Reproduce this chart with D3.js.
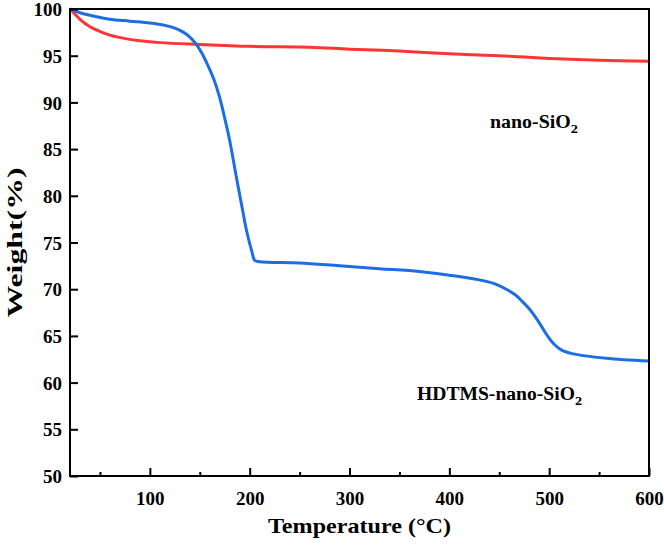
<!DOCTYPE html>
<html>
<head>
<meta charset="utf-8">
<script src="https://cdn.jsdelivr.net/npm/d3@7"></script>
<style>
  body { margin: 0; background: #fff; }
  text { font-family: "Liberation Serif", "Times New Roman", serif; font-weight: bold; fill: #000; }
</style>
</head>
<body>
<script>
// temperature (°C) and weight (%)
var nanoTemp = [20, 25, 30, 40, 50, 60, 77, 90, 110, 150, 200, 260, 300, 350, 400, 450, 500, 550, 600];
var nanoWeight = [100, 99.45, 98.9, 98.1, 97.6, 97.2, 96.8, 96.6, 96.4, 96.2, 96.0, 95.9, 95.7, 95.5, 95.2, 95.0, 94.7, 94.5, 94.4];

var hdtmsTemp = [20, 30, 43, 60, 80, 100, 115, 125, 133, 140, 146, 152, 158, 164, 170, 175, 180, 187, 193, 197, 202, 205, 210, 250, 290, 330, 370, 400, 430, 445, 457, 466, 473, 480, 487, 493, 499, 505, 512, 523, 557, 600];
var hdtmsWeight = [100, 99.6, 99.25, 98.9, 98.7, 98.5, 98.25, 97.95, 97.55, 97.0, 96.3, 95.3, 94.0, 92.5, 90.5, 88.3, 85.9, 81.8, 78.4, 76.2, 74.1, 73.1, 72.95, 72.8, 72.5, 72.2, 71.9, 71.5, 71.0, 70.6, 70.0, 69.4, 68.7, 67.9, 66.9, 65.9, 64.9, 64.1, 63.5, 63.1, 62.6, 62.3];

var xTicks = [100, 200, 300, 400, 500, 600];
var xMinorTicks = [50, 150, 250, 350, 450, 550];
var yTicks = [50, 55, 60, 65, 70, 75, 80, 85, 90, 95, 100];

var width = 664, height = 545;
var margin = {left: 70, right: 15, top: 9, bottom: 69};

var svg = d3.select('body').append('svg')
  .attr('width', width)
  .attr('height', height);

var x = d3.scaleLinear().domain([20, 600]).range([margin.left, width - margin.right]);
var y = d3.scaleLinear().domain([50, 100]).range([height - margin.bottom, margin.top]);

var line = d3.line()
  .x(function(d) { return x(d[0]); })
  .y(function(d) { return y(d[1]); })
  .curve(d3.curveCatmullRom.alpha(0.5));

var plot = svg.append('g');
plot.append('defs').append('clipPath').attr('id', 'clip')
  .append('rect')
  .attr('x', x(20)).attr('y', y(100) - 2)
  .attr('width', x(600) - x(20)).attr('height', y(50) - y(100) + 2);

var curves = plot.append('g').attr('clip-path', 'url(#clip)');
curves.append('path')
  .datum(d3.zip(nanoTemp, nanoWeight))
  .attr('d', line)
  .attr('fill', 'none')
  .attr('stroke', '#ff3535')
  .attr('stroke-width', 3);

curves.append('path')
  .datum(d3.zip(hdtmsTemp, hdtmsWeight))
  .attr('d', line)
  .attr('fill', 'none')
  .attr('stroke', '#1c6ee3')
  .attr('stroke-width', 3);

// frame
svg.append('rect')
  .attr('x', x(20)).attr('y', y(100))
  .attr('width', x(600) - x(20)).attr('height', y(50) - y(100))
  .attr('fill', 'none').attr('stroke', '#000').attr('stroke-width', 2);

// axes, ticks pointing inward
var xAxis = svg.append('g')
  .attr('transform', 'translate(0,' + y(50) + ')')
  .call(d3.axisBottom(x).tickValues(xTicks).tickSizeInner(-8).tickSizeOuter(0).tickPadding(16));
var xMinor = svg.append('g')
  .attr('transform', 'translate(0,' + y(50) + ')')
  .call(d3.axisBottom(x).tickValues(xMinorTicks).tickSizeInner(-4).tickSizeOuter(0).tickFormat(''));

var yAxis = svg.append('g')
  .attr('transform', 'translate(' + x(20) + ',0)')
  .call(d3.axisLeft(y).tickValues(yTicks).tickSizeInner(-8).tickSizeOuter(0).tickPadding(8));

[xAxis, xMinor, yAxis].forEach(function(g) {
  g.select('.domain').remove();
  g.selectAll('.tick line').attr('stroke', '#000').attr('stroke-width', 2);
  g.selectAll('.tick text').style('font-size', '19px').style('font-family', '"Liberation Serif", serif').style('font-weight', 'bold').attr('fill', '#000');
});
yAxis.selectAll('.tick text').attr('dy', '0.35em');

// axis titles (the original lettering is a little wide)
svg.append('text')
  .attr('x', (x(20) + x(600)) / 2)
  .attr('y', 533)
  .attr('text-anchor', 'middle')
  .attr('textLength', 183)
  .attr('lengthAdjust', 'spacingAndGlyphs')
  .style('font-size', '21px')
  .text('Temperature (°C)');

svg.append('text')
  .attr('transform', 'translate(22,' + ((y(50) + y(100)) / 2) + ') rotate(-90)')
  .attr('text-anchor', 'middle')
  .attr('textLength', 150)
  .attr('lengthAdjust', 'spacingAndGlyphs')
  .style('font-size', '22px')
  .text('Weight(%)');

// series labels
var lab1 = svg.append('text')
  .attr('x', 490).attr('y', 128)
  .attr('textLength', 88)
  .attr('lengthAdjust', 'spacingAndGlyphs')
  .style('font-size', '18px');
lab1.append('tspan').text('nano-SiO');
lab1.append('tspan').attr('dy', 5).style('font-size', '13px').text('2');

var lab2 = svg.append('text')
  .attr('x', 417).attr('y', 400)
  .attr('textLength', 165)
  .attr('lengthAdjust', 'spacingAndGlyphs')
  .style('font-size', '18px');
lab2.append('tspan').text('HDTMS-nano-SiO');
lab2.append('tspan').attr('dy', 5).style('font-size', '13px').text('2');
</script>
</body>
</html>
